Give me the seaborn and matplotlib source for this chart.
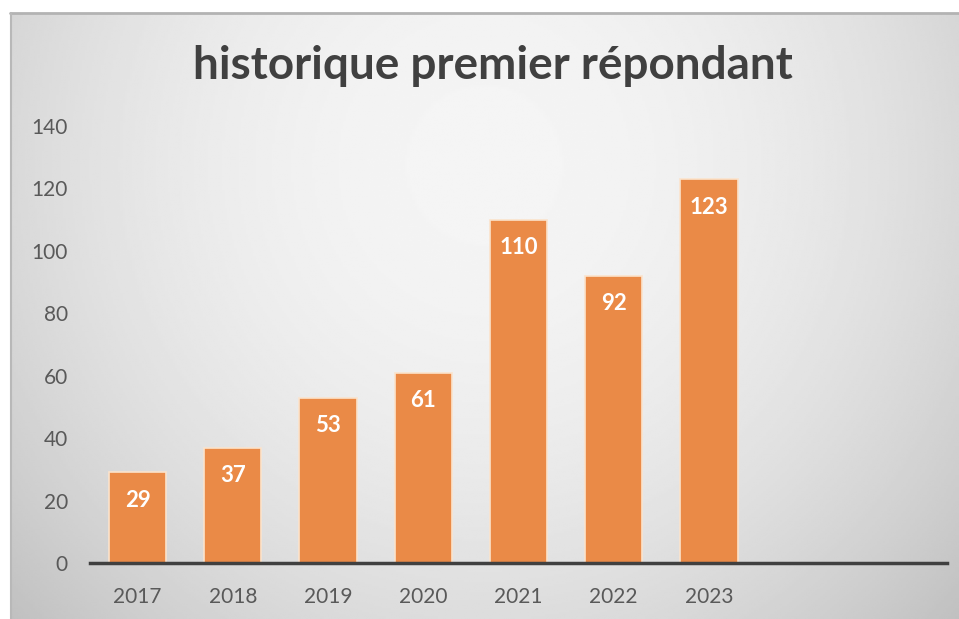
import numpy as np
import pandas as pd
import seaborn as sns
import matplotlib.pyplot as plt

# data
years = ["2017", "2018", "2019", "2020", "2021", "2022", "2023"]
counts = [29, 37, 53, 61, 110, 92, 123]
yticks = [0, 20, 40, 60, 80, 100, 120, 140]
title = "historique premier répondant"

df = pd.DataFrame({"annee": years, "n": counts})

sns.set_theme(style="white")
plt.rcParams["font.family"] = ["Lato", "DejaVu Sans"]

W, H = 959, 619
fig = plt.figure(figsize=(W / 100, H / 100), dpi=100)
fig.patch.set_facecolor("white")

# chart frame with radial grey gradient
bg = fig.add_axes([10 / W, 0, 949 / W, 606 / H])
gx, gy = np.meshgrid(np.linspace(0, 1, 400), np.linspace(0, 1, 300))
r2 = ((gx - 0.5) / 0.62) ** 2 + ((gy - 0.25) / 1.0) ** 2
shade = 0.96 - 0.17 * np.clip(r2, 0, 1.3)
bg.imshow(shade, cmap="gray", vmin=0, vmax=1, aspect="auto",
          extent=(0, 1, 1, 0), interpolation="bilinear")
bg.set_axis_off()
fig.add_artist(plt.Line2D([10 / W, 1], [606 / H, 606 / H],
                          color="#b3b3b3", lw=2, transform=fig.transFigure))
fig.add_artist(plt.Line2D([11 / W, 11 / W], [0, 606 / H],
                          color="#b8b8b8", lw=1.5, transform=fig.transFigure))

ax = fig.add_axes([90 / W, (H - 563) / H, (947 - 90) / W, (563 - 126) / H])
ax.patch.set_alpha(0)
sns.barplot(data=df, x="annee", y="n", color="#EA8A47", saturation=1,
            width=0.6, edgecolor="#fbe3cc", linewidth=1.2, ax=ax)

for p, v in zip(ax.patches, counts):
    ax.annotate(str(v), (p.get_x() + p.get_width() / 2, p.get_height()),
                xytext=(0, -28), textcoords="offset pixels",
                ha="center", va="center", color="white",
                fontsize=16, fontweight="bold")

ax.set_xlim(-0.5, 8.5)
ax.set_ylim(0, 140)
ax.set_yticks(yticks)
ax.set_xlabel("")
ax.set_ylabel("")
for s in ["top", "right", "left"]:
    ax.spines[s].set_visible(False)
ax.spines["bottom"].set_color("#404040")
ax.spines["bottom"].set_linewidth(2.5)
ax.tick_params(axis="both", length=0, labelsize=15, labelcolor="#595959")
ax.tick_params(axis="y", pad=16)
ax.tick_params(axis="x", pad=17)

fig.text(493 / W, (H - 66) / H, title, ha="center", va="center",
         fontsize=33, fontweight="bold", color="#404040")

fig.savefig("out.png", dpi=100)
